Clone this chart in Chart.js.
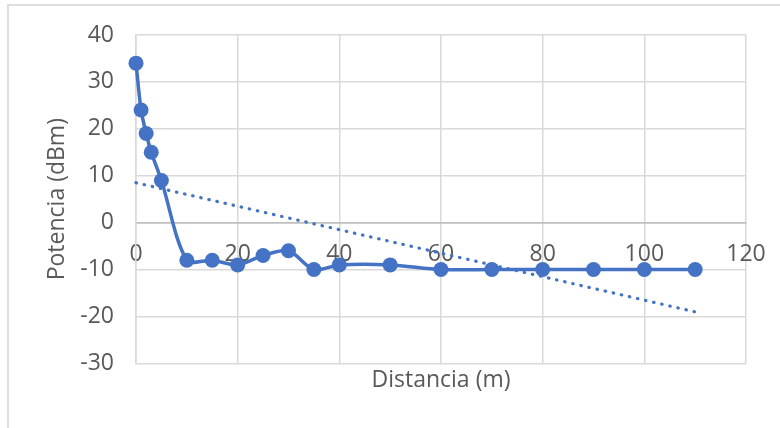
<!DOCTYPE html>
<html>
<head>
<meta charset="utf-8">
<script src="https://cdn.jsdelivr.net/npm/chart.js@4/dist/chart.umd.min.js"></script>
<style>
  html, body { margin: 0; padding: 0; background: #fff; overflow: hidden; }
  #wrap { position: relative; width: 780px; height: 428px; }
  #frame { position: absolute; left: 7px; top: 4px; width: 820px; height: 500px;
           border: 2px solid #dedede; box-sizing: border-box; }
  canvas { position: absolute; left: 0; top: 0; }
</style>
</head>
<body>
<div id="wrap">
  <div id="frame"></div>
  <canvas id="c" width="780" height="428"></canvas>
</div>
<script>
// Measured received power versus distance
const distancia = [0, 1, 2, 3, 5, 10, 15, 20, 25, 30, 35, 40, 50, 60, 70, 80, 90, 100, 110];
const potencia  = [34, 24, 19, 15, 9, -8, -8, -9, -7, -6, -10, -9, -9, -10, -10, -10, -10, -10, -10];

const xTicks = [0, 20, 40, 60, 80, 100, 120];
const yTicks = [-30, -20, -10, 0, 10, 20, 30, 40];

const BLUE = '#4472C4';
const FONT = "'Open Sans', sans-serif";
const TEXT = '#595959';
const SIZE = 23;

// Least-squares linear trend over the measured points
function linearFit(xs, ys) {
  const n = xs.length;
  let sx = 0, sy = 0, sxy = 0, sxx = 0;
  for (let i = 0; i < n; i++) {
    sx += xs[i]; sy += ys[i]; sxy += xs[i] * ys[i]; sxx += xs[i] * xs[i];
  }
  const m = (n * sxy - sx * sy) / (n * sxx - sx * sx);
  const b = (sy - m * sx) / n;
  return { m, b };
}
const fit = linearFit(distancia, potencia);
const xMin = Math.min(...distancia), xMax = Math.max(...distancia);
const tendencia = [
  { x: xMin, y: fit.m * xMin + fit.b },
  { x: xMax, y: fit.m * xMax + fit.b }
];

const medidas = distancia.map((d, i) => ({ x: d, y: potencia[i] }));

new Chart(document.getElementById('c'), {
  type: 'line',
  data: {
    datasets: [
      {
        label: 'Potencia',
        data: medidas,
        borderColor: BLUE,
        backgroundColor: BLUE,
        borderWidth: 3.5,
        pointRadius: 7.5,
        pointHoverRadius: 7.5,
        pointBorderWidth: 0,
        tension: 0.3,
        clip: false,
        order: 2
      },
      {
        label: 'Tendencia',
        data: tendencia,
        borderColor: BLUE,
        borderWidth: 3.2,
        borderDash: [0.5, 7.8],
        borderCapStyle: 'round',
        pointRadius: 0,
        tension: 0,
        clip: false,
        order: 1
      }
    ]
  },
  options: {
    responsive: false,
    animation: false,
    events: [],
    layout: { padding: { left: 0, top: 35, right: 34, bottom: 0 } },
    scales: {
      x: {
        type: 'linear',
        position: { y: 0 },
        min: 0,
        max: 120,
        afterBuildTicks: (s) => { s.ticks = xTicks.map(v => ({ value: v })); },
        afterFit: (s) => { s.paddingLeft = 0; s.paddingRight = 0; },
        grid: { color: '#d9d9d9', lineWidth: 1.5, drawTicks: false },
        border: { display: true, color: '#bfbfbf', width: 1.5 },
        ticks: { padding: 18, color: TEXT, font: { family: FONT, size: SIZE } }
      },
      y: {
        type: 'linear',
        position: 'left',
        min: -30,
        max: 40,
        afterBuildTicks: (s) => { s.ticks = yTicks.map(v => ({ value: v })); },
        afterFit: (s) => { s.width = 136; s.paddingTop = 0; s.paddingBottom = 0; },
        grid: {
          color: (ctx) => (ctx.tick && ctx.tick.value === 0) ? '#bfbfbf' : '#d9d9d9',
          lineWidth: 1.5,
          drawTicks: false
        },
        border: { display: true, color: '#d9d9d9', width: 1.5 },
        ticks: { padding: 22, color: TEXT, font: { family: FONT, size: SIZE } },
        title: {
          display: true,
          text: 'Potencia (dBm)',
          color: TEXT,
          font: { family: FONT, size: SIZE },
          padding: { top: 44, bottom: 0 }
        }
      }
    },
    plugins: {
      legend: { display: false },
      tooltip: { enabled: false },
      title: {
        display: true,
        position: 'bottom',
        fullSize: false,
        text: 'Distancia (m)',
        color: TEXT,
        font: { family: FONT, size: SIZE, weight: 'normal' },
        padding: { top: 3, bottom: 34 }
      }
    }
  }
});
</script>
</body>
</html>
